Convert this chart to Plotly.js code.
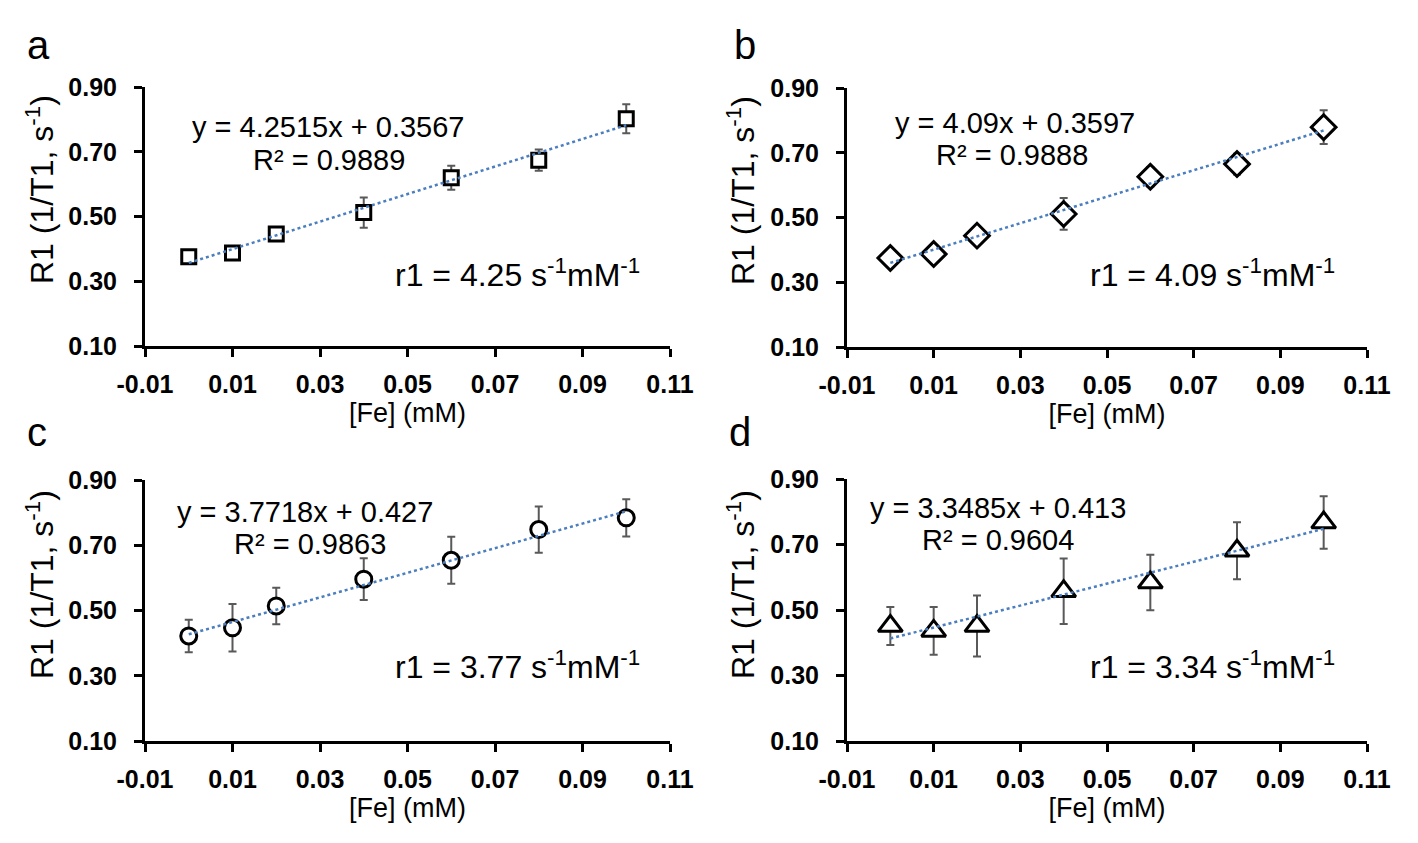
<!DOCTYPE html>
<html>
<head>
<meta charset="utf-8">
<script src="https://cdn.plot.ly/plotly-3.0.1.min.js"></script>
<style>
  html, body { margin: 0; padding: 0; background: #ffffff; }
  #chart { width: 1418px; height: 843px; }
</style>
</head>
<body>
<div id="chart"></div>
<script>
// ---- data ----
const conc = [0, 0.01, 0.02, 0.04, 0.06, 0.08, 0.1];

const r1A = [0.376, 0.387, 0.446, 0.512, 0.620, 0.674, 0.802];
const errA = [0.012, 0.016, 0.016, 0.047, 0.037, 0.033, 0.045];
const r1B = [0.375, 0.387, 0.444, 0.511, 0.626, 0.665, 0.779];
const errB = [0.025, 0.016, 0.028, 0.049, 0.030, 0.032, 0.052];
const r1C = [0.422, 0.447, 0.514, 0.596, 0.654, 0.748, 0.784];
const errC = [0.050, 0.073, 0.056, 0.064, 0.072, 0.071, 0.057];
const r1D = [0.451, 0.436, 0.451, 0.557, 0.584, 0.681, 0.767];
const errD = [0.058, 0.073, 0.093, 0.100, 0.085, 0.087, 0.080];

// linear trendline end points (from the fitted equations shown)
const fitX = [0, 0.1];
const fitA = [0.3567, 0.7819];
const fitB = [0.3597, 0.7687];
const fitC = [0.427, 0.8042];
const fitD = [0.413, 0.7479];

// tick labels
const xTickVals = [-0.01, 0.01, 0.03, 0.05, 0.07, 0.09, 0.11];
const xTickText = ['-0.01', '0.01', '0.03', '0.05', '0.07', '0.09', '0.11'];
const yTickVals = [0.1, 0.3, 0.5, 0.7, 0.9];
const yTickText = ['0.10', '0.30', '0.50', '0.70', '0.90'];

const panelLetters = ['a', 'b', 'c', 'd'];
const eqLines = ['y = 4.2515x + 0.3567', 'y = 4.09x + 0.3597', 'y = 3.7718x + 0.427', 'y = 3.3485x + 0.413'];
const r2Lines = ['R² = 0.9889', 'R² = 0.9888', 'R² = 0.9863', 'R² = 0.9604'];
const r1Values = ['4.25', '4.09', '3.77', '3.34'];
const xTitle = '[Fe] (mM)';
const yTitle = 'R1 (1/T1, s<sup>-1</sup>)';

// ---- styling ----
const W = 1418, H = 843;
const FONT = 'Liberation Sans, Arial, sans-serif';
const px = v => v / W;
const py = v => 1 - v / H;

const series = [
  {y: r1A, e: errA, fit: fitA, symbol: 'square', size: 14},
  {y: r1B, e: errB, fit: fitB, symbol: 'diamond', size: 19},
  {y: r1C, e: errC, fit: fitC, symbol: 'circle', size: 16},
  {y: r1D, e: errD, fit: fitD, symbol: 'triangle-up', size: 21}
];

// plot-area pixel boxes [left, right, top, bottom]
const boxes = [
  [145, 670, 87, 346],
  [847, 1367, 88, 347],
  [145, 670, 480, 741],
  [847, 1367, 479, 741]
];

const traces = [];
const layout = {
  width: W, height: H,
  margin: {l: 0, r: 0, t: 0, b: 0},
  paper_bgcolor: '#ffffff', plot_bgcolor: '#ffffff',
  showlegend: false,
  font: {family: FONT, color: '#000000'},
  annotations: []
};

series.forEach((s, i) => {
  const n = i + 1;
  const sfx = n === 1 ? '' : String(n);
  const xa = 'x' + sfx, ya = 'y' + sfx;
  traces.push({
    x: conc, y: s.y, xaxis: xa, yaxis: ya, mode: 'markers',
    marker: {symbol: s.symbol, size: s.size, color: '#ffffff', line: {color: '#000000', width: 3}},
    error_y: {type: 'data', array: s.e, visible: true, color: '#595959', thickness: 2, width: 4}
  });
  traces.push({
    x: fitX, y: s.fit, xaxis: xa, yaxis: ya, mode: 'lines',
    line: {color: '#4a7ebf', width: 2.5, dash: 'dot'}, hoverinfo: 'skip'
  });
  const b = boxes[i];
  const axCommon = {
    showline: true, linecolor: '#000000', linewidth: 3,
    ticks: 'outside', ticklen: 8, tickwidth: 3, tickcolor: '#000000',
    showgrid: false, zeroline: false, fixedrange: true,
    tickfont: {family: FONT, size: 25, color: '#000000', weight: 'bold'},
    tickmode: 'array'
  };
  layout['xaxis' + sfx] = Object.assign({}, axCommon, {
    domain: [px(b[0]), px(b[1])], anchor: 'y' + sfx,
    range: [-0.01, 0.11], tickvals: xTickVals, ticktext: xTickText,
    ticklabelstandoff: 6,
    title: {text: xTitle, font: {family: FONT, size: 27, color: '#000000'}, standoff: 2}
  });
  layout['yaxis' + sfx] = Object.assign({}, axCommon, {
    domain: [py(b[3]), py(b[2])], anchor: 'x' + sfx,
    range: [0.1, 0.9], tickvals: yTickVals, ticktext: yTickText,
    ticklabelstandoff: 12
  });
});

// text annotations
const letterPos = [[38, 45], [745, 45], [37, 432], [740, 432]];
const eqPos = [[328, 127], [1015, 123], [305, 512], [998, 508]];
const r2Pos = [[329, 160], [1012, 155], [310, 544], [998, 540]];
const r1Pos = [[517, 273], [1212, 273], [517, 665], [1212, 665]];
const yTitlePos = [[40, 190], [741, 191], [40, 585], [741, 585]];

for (let i = 0; i < 4; i++) {
  layout.annotations.push({
    xref: 'paper', yref: 'paper', x: px(yTitlePos[i][0]), y: py(yTitlePos[i][1]),
    xanchor: 'center', yanchor: 'middle', showarrow: false, textangle: -90,
    text: yTitle, font: {family: FONT, size: 32, color: '#000000'}
  });
  layout.annotations.push({
    xref: 'paper', yref: 'paper', x: px(letterPos[i][0]), y: py(letterPos[i][1]),
    xanchor: 'center', yanchor: 'middle', showarrow: false,
    text: panelLetters[i], font: {family: FONT, size: 40, color: '#000000'}
  });
  layout.annotations.push({
    xref: 'paper', yref: 'paper', x: px(eqPos[i][0]), y: py(eqPos[i][1]),
    xanchor: 'center', yanchor: 'middle', showarrow: false,
    text: eqLines[i], font: {family: FONT, size: 29, color: '#000000'}
  });
  layout.annotations.push({
    xref: 'paper', yref: 'paper', x: px(r2Pos[i][0]), y: py(r2Pos[i][1]),
    xanchor: 'center', yanchor: 'middle', showarrow: false,
    text: r2Lines[i], font: {family: FONT, size: 29, color: '#000000'}
  });
  layout.annotations.push({
    xref: 'paper', yref: 'paper', x: px(r1Pos[i][0]), y: py(r1Pos[i][1]),
    xanchor: 'center', yanchor: 'middle', showarrow: false,
    text: 'r1 = ' + r1Values[i] + ' s<sup>-1</sup>mM<sup>-1</sup>',
    font: {family: FONT, size: 32, color: '#000000'}
  });
}

Plotly.newPlot('chart', traces, layout, {displayModeBar: false, staticPlot: true});
</script>
</body>
</html>
